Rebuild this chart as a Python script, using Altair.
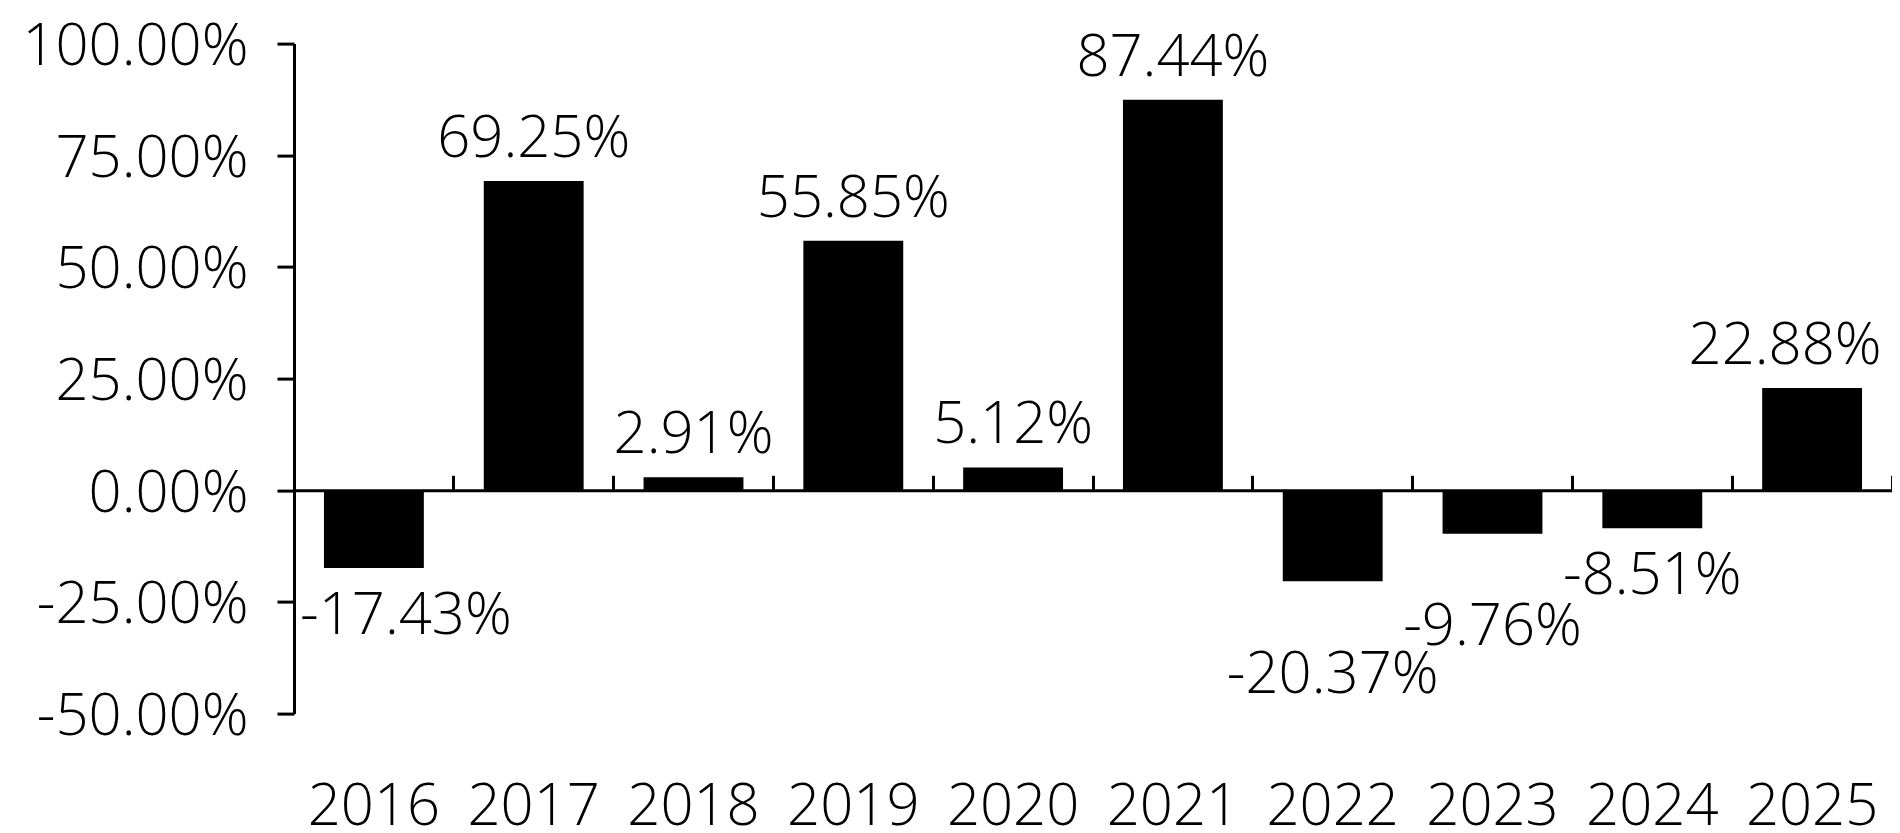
import altair as alt
import pandas as pd

years = ["2016", "2017", "2018", "2019", "2020", "2021", "2022", "2023", "2024", "2025"]
values = [-17.43, 69.25, 2.91, 55.85, 5.12, 87.44, -20.37, -9.76, -8.51, 22.88]
y_ticks = [-50, -25, 0, 25, 50, 75, 100]

df = pd.DataFrame({"year": years, "value": values})

FONT = "Open Sans"
FS = 58
FW = 300
W, H = 1598, 670

PCT = "(datum.value < 0 ? '-' : '') + format(abs(datum.value), '.2f') + '%'"

xscale = alt.Scale(paddingInner=0.375, paddingOuter=0.1875)
yscale = alt.Scale(domain=[-50, 100], nice=False, zero=True)

base = alt.Chart(df).transform_calculate(label=PCT)

bars = base.mark_bar(color="black").encode(
    x=alt.X("year:N", scale=xscale, sort=years, title=None,
            axis=alt.Axis(orient="bottom", domain=False, ticks=False, labelAngle=0,
                          labelFont=FONT, labelFontSize=FS, labelFontWeight=FW,
                          labelColor="black", labelPadding=65, grid=False)),
    y=alt.Y("value:Q", scale=yscale, title=None,
            axis=alt.Axis(values=y_ticks, labelExpr=PCT, labelLimit=0,
                          labelFont=FONT, labelFontSize=FS, labelFontWeight=FW,
                          labelColor="black",
                          labelPadding=29, tickSize=17, tickWidth=3, tickColor="black",
                          domainWidth=3, domainColor="black", grid=False, labelOffset=4)),
)

zero_axis = base.mark_tick(opacity=0).encode(
    x=alt.X("year:N", scale=xscale, sort=years, title=None,
            axis=alt.Axis(orient="top", offset=-446.7, labels=False, domainWidth=3,
                          domainColor="black", bandPosition=1.3, tickSize=15,
                          tickWidth=3, tickColor="black", grid=False, zindex=1)),
)

def lbl(years_sel, dx, dy):
    return base.transform_filter(
        alt.FieldOneOfPredicate(field="year", oneOf=years_sel)
    ).mark_text(font=FONT, fontSize=FS, fontWeight=FW, color="black",
                baseline="alphabetic", align="center", dx=dx, dy=dy).encode(
        x=alt.X("year:N", scale=xscale, sort=years, axis=None),
        y=alt.Y("value:Q", scale=yscale, axis=None),
        text="label:N",
    )

labels = [
    lbl(["2017", "2018", "2019", "2020", "2021"], 0, -24),
    lbl(["2025"], -27, -24),
    lbl(["2016"], 32, 65.5),
    lbl(["2024"], 0, 65.5),
    lbl(["2022", "2023"], 0, 111.5),
]

chart = alt.layer(bars, zero_axis, *labels).resolve_axis(x="independent", y="independent").properties(
    width=W, height=H,
    autosize=alt.AutoSizeParams(type="none"),
    padding={"left": 286, "top": 35.6, "right": 0, "bottom": 115},
    background="white",
).configure_view(stroke=None)

chart.save("out.html", embed_options={"renderer": "svg", "actions": False})
